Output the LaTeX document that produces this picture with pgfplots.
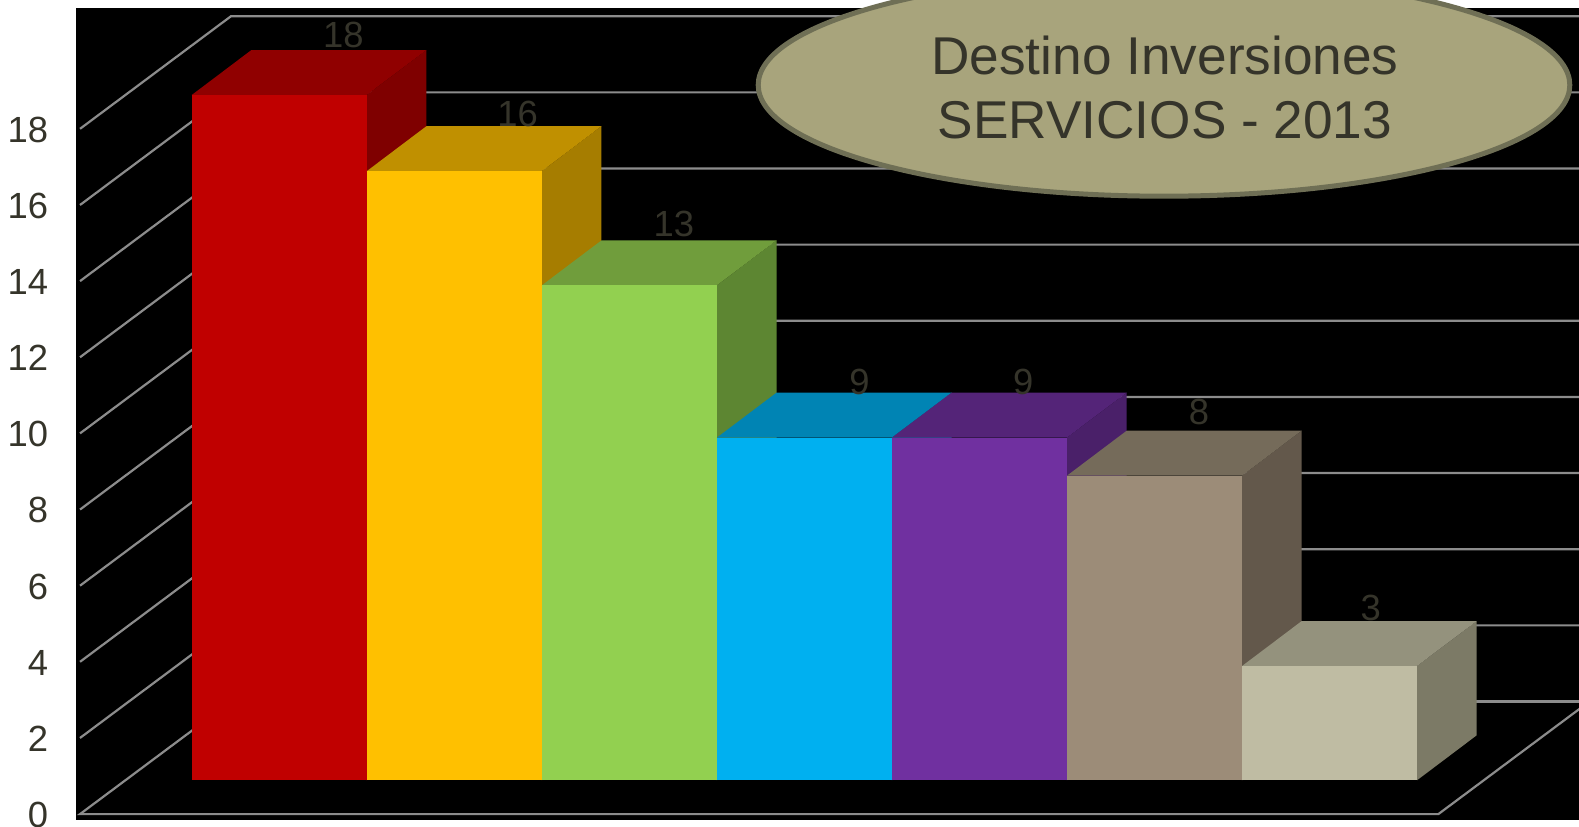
\documentclass[border=0pt]{standalone}
\usepackage{fontspec}
\setmainfont{Liberation Sans}
\usepackage{pgfplots}
\pgfplotsset{compat=1.18}

\definecolor{gridc}{HTML}{8C8C8C}
\definecolor{txt}{HTML}{35342A}
\definecolor{ovalfill}{HTML}{A8A47C}
\definecolor{ovaldraw}{HTML}{6F6F55}

\definecolor{c1}{HTML}{C00000}\definecolor{c1t}{HTML}{900000}\definecolor{c1s}{HTML}{7F0000}
\definecolor{c2}{HTML}{FFC000}\definecolor{c2t}{HTML}{C09000}\definecolor{c2s}{HTML}{A67D00}
\definecolor{c3}{HTML}{92D050}\definecolor{c3t}{HTML}{709D3C}\definecolor{c3s}{HTML}{5D8632}
\definecolor{c4}{HTML}{00B0F0}\definecolor{c4t}{HTML}{0084B4}\definecolor{c4s}{HTML}{00729C}
\definecolor{c5}{HTML}{7030A0}\definecolor{c5t}{HTML}{542478}\definecolor{c5s}{HTML}{4A2069}
\definecolor{c6}{HTML}{9C8C78}\definecolor{c6t}{HTML}{756B5A}\definecolor{c6s}{HTML}{63584B}
\definecolor{c7}{HTML}{BFBCA3}\definecolor{c7t}{HTML}{94927D}\definecolor{c7s}{HTML}{7C7A66}

\begin{document}
\begin{tikzpicture}
\path[use as bounding box] (0,0) rectangle (789.5pt,413pt);
\begin{axis}[
    at={(38pt,3pt)},
    anchor=south west,
    scale only axis,
    width=751.5pt,
    height=406pt,
    xmin=-1.161, xmax=7.4255,
    ymin=-1.043, ymax=20.286,
    axis background/.style={fill=black},
    axis line style={draw=none},
    major tick length=0pt,
    xtick=\empty,
    ytick={-0.888,1.112,3.112,5.112,7.112,9.112,11.112,13.112,15.112,17.112},
    yticklabels={0,2,4,6,8,10,12,14,16,18},
    yticklabel style={font=\fontsize{18.2}{20}\selectfont, text=txt, inner sep=0pt, xshift=-13.8pt, yshift=-0.4pt},
]

% floor and wall grid, y shifted: bars stand forward of the front edge
\addplot[gridc, line width=1.1pt] coordinates {(-0.2755,2.07) (-1.138,-0.888) (6.622,-0.888) (7.485,2.07)};
\addplot[gridc, line width=1.1pt] coordinates {(-0.2755,2.07) (7.5,2.07)};
\addplot[gridc, line width=1.1pt] coordinates {(-1.138,1.112) (-0.2755,4.07) (7.5,4.07)};
\addplot[gridc, line width=1.1pt] coordinates {(-1.138,3.112) (-0.2755,6.07) (7.5,6.07)};
\addplot[gridc, line width=1.1pt] coordinates {(-1.138,5.112) (-0.2755,8.07) (7.5,8.07)};
\addplot[gridc, line width=1.1pt] coordinates {(-1.138,7.112) (-0.2755,10.07) (7.5,10.07)};
\addplot[gridc, line width=1.1pt] coordinates {(-1.138,9.112) (-0.2755,12.07) (7.5,12.07)};
\addplot[gridc, line width=1.1pt] coordinates {(-1.138,11.112) (-0.2755,14.07) (7.5,14.07)};
\addplot[gridc, line width=1.1pt] coordinates {(-1.138,13.112) (-0.2755,16.07) (7.5,16.07)};
\addplot[gridc, line width=1.1pt] coordinates {(-1.138,15.112) (-0.2755,18.07) (7.5,18.07)};
\addplot[gridc, line width=1.1pt] coordinates {(-1.138,17.112) (-0.2755,20.07) (7.5,20.07)};

% bars, left to right: side, top, front
\addplot[fill=c1s, draw=none] coordinates {(0.5,0) (0.5,18) (0.841,19.182) (0.841,1.182)} --cycle;
\addplot[fill=c1t, draw=none] coordinates {(-0.5,18) (0.5,18) (0.841,19.182) (-0.159,19.182)} --cycle;
\addplot[ybar, bar width=1, bar shift=0pt, fill=c1, draw=none] coordinates {(0,18)};

\addplot[fill=c2s, draw=none] coordinates {(1.5,0) (1.5,16) (1.841,17.182) (1.841,1.182)} --cycle;
\addplot[fill=c2t, draw=none] coordinates {(0.5,16) (1.5,16) (1.841,17.182) (0.841,17.182)} --cycle;
\addplot[ybar, bar width=1, bar shift=0pt, fill=c2, draw=none] coordinates {(1,16)};

\addplot[fill=c3s, draw=none] coordinates {(2.5,0) (2.5,13) (2.841,14.182) (2.841,1.182)} --cycle;
\addplot[fill=c3t, draw=none] coordinates {(1.5,13) (2.5,13) (2.841,14.182) (1.841,14.182)} --cycle;
\addplot[ybar, bar width=1, bar shift=0pt, fill=c3, draw=none] coordinates {(2,13)};

\addplot[fill=c4s, draw=none] coordinates {(3.5,0) (3.5,9) (3.841,10.182) (3.841,1.182)} --cycle;
\addplot[fill=c4t, draw=none] coordinates {(2.5,9) (3.5,9) (3.841,10.182) (2.841,10.182)} --cycle;
\addplot[ybar, bar width=1, bar shift=0pt, fill=c4, draw=none] coordinates {(3,9)};

\addplot[fill=c5s, draw=none] coordinates {(4.5,0) (4.5,9) (4.841,10.182) (4.841,1.182)} --cycle;
\addplot[fill=c5t, draw=none] coordinates {(3.5,9) (4.5,9) (4.841,10.182) (3.841,10.182)} --cycle;
\addplot[ybar, bar width=1, bar shift=0pt, fill=c5, draw=none] coordinates {(4,9)};

\addplot[fill=c6s, draw=none] coordinates {(5.5,0) (5.5,8) (5.841,9.182) (5.841,1.182)} --cycle;
\addplot[fill=c6t, draw=none] coordinates {(4.5,8) (5.5,8) (5.841,9.182) (4.841,9.182)} --cycle;
\addplot[ybar, bar width=1, bar shift=0pt, fill=c6, draw=none] coordinates {(5,8)};

\addplot[fill=c7s, draw=none] coordinates {(6.5,0) (6.5,3) (6.841,4.182) (6.841,1.182)} --cycle;
\addplot[fill=c7t, draw=none] coordinates {(5.5,3) (6.5,3) (6.841,4.182) (5.841,4.182)} --cycle;
\addplot[ybar, bar width=1, bar shift=0pt, fill=c7, draw=none] coordinates {(6,3)};

% value labels
\tikzset{vlab/.style={text=txt, font=\fontsize{18.2}{20}\selectfont, inner sep=0pt}}
\node[vlab] at (axis cs:0.366,19.57) {18};
\node[vlab] at (axis cs:1.362,17.5) {16};
\node[vlab] at (axis cs:2.254,14.6) {13};
\node[vlab] at (axis cs:3.315,10.47) {9};
\node[vlab] at (axis cs:4.25,10.47) {9};
\node[vlab] at (axis cs:5.255,9.68) {8};
\node[vlab] at (axis cs:6.235,4.52) {3};
\end{axis}

% title oval runs off the top of the page
\draw[fill=ovalfill, draw=ovaldraw, line width=2.5pt] (582pt,370.5pt) ellipse [x radius=202.9pt, y radius=55.6pt];
\node[anchor=base, text=txt, font=\fontsize{26.6}{30}\selectfont, inner sep=0pt] at (582.5pt,375.7pt) {Destino Inversiones};
\node[anchor=base, text=txt, font=\fontsize{26.6}{30}\selectfont, inner sep=0pt] at (582.5pt,343.5pt) {SERVICIOS - 2013};
\end{tikzpicture}
\end{document}
